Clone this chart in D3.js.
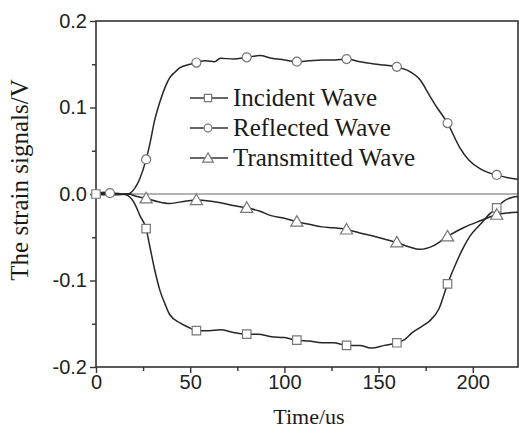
<!DOCTYPE html>
<html>
<head>
<meta charset="utf-8">
<script src="https://cdn.jsdelivr.net/npm/d3@7"></script>
<style>
  body { margin: 0; background: #fff; }
  svg { display: block; }
</style>
</head>
<body>
<div id="chart"></div>
<script>
// values
const incidentT = [0, 5, 10, 14, 17, 20.7, 23.3, 26.6, 28.6, 31.3, 34, 36.6, 39, 44.6, 50, 53.3, 60, 66, 73, 80, 86, 93, 100, 106.6, 113, 120, 126, 133, 140, 146, 153, 159.7, 164, 168, 173, 177, 182, 186.6, 191.5, 195, 198.4, 204, 209, 212.7, 216, 220.7, 224];
const incidentV = [0, 0.001, 0.001, 0, -0.002, -0.012, -0.025, -0.040, -0.061, -0.089, -0.112, -0.127, -0.139, -0.149, -0.155, -0.158, -0.158, -0.157, -0.160, -0.162, -0.162, -0.165, -0.166, -0.169, -0.170, -0.172, -0.172, -0.175, -0.175, -0.178, -0.175, -0.172, -0.168, -0.160, -0.153, -0.147, -0.133, -0.104, -0.078, -0.062, -0.049, -0.035, -0.023, -0.016, -0.009, -0.004, -0.003];

const reflectedT = [0, 4, 7.4, 12, 17, 20.7, 23.3, 26.6, 28.6, 31, 34, 36.6, 39, 42, 44.6, 50, 53.3, 58, 63, 66, 73, 80, 87, 93, 100, 106.6, 113, 120, 127, 133, 140, 146, 153, 159.7, 167, 172, 177, 181, 186.6, 193, 198, 204, 208, 212.7, 218, 224];
const reflectedV = [0, 0.002, 0.001, 0, 0, 0.007, 0.018, 0.040, 0.058, 0.084, 0.107, 0.123, 0.134, 0.141, 0.146, 0.150, 0.152, 0.154, 0.153, 0.157, 0.156, 0.158, 0.160, 0.157, 0.155, 0.153, 0.154, 0.155, 0.155, 0.156, 0.153, 0.151, 0.149, 0.147, 0.141, 0.132, 0.114, 0.100, 0.082, 0.054, 0.039, 0.029, 0.025, 0.022, 0.019, 0.017];

const transmittedT = [0, 5, 10, 17, 22, 26.6, 33, 39, 48, 53.3, 60, 66, 72, 80, 87, 93, 100, 106.6, 113, 120, 126, 133, 140, 146, 153, 159.7, 166, 172, 179, 186.6, 195, 204, 212.7, 218, 224];
const transmittedV = [0, -0.001, -0.001, 0, -0.003, -0.005, -0.009, -0.011, -0.008, -0.007, -0.008, -0.010, -0.013, -0.016, -0.020, -0.025, -0.028, -0.032, -0.035, -0.038, -0.039, -0.041, -0.045, -0.048, -0.052, -0.056, -0.061, -0.064, -0.060, -0.049, -0.039, -0.031, -0.024, -0.022, -0.021];

// where the symbols sit on each curve
const incidentMarkT = [0, 26.6, 53.3, 80, 106.6, 133, 159.7, 186.6, 212.7];
const incidentMarkV = [0, -0.040, -0.158, -0.162, -0.169, -0.175, -0.172, -0.104, -0.016];
const reflectedMarkT = [7.4, 26.6, 53.3, 80, 106.6, 133, 159.7, 186.6, 212.7];
const reflectedMarkV = [0.001, 0.040, 0.152, 0.158, 0.153, 0.156, 0.147, 0.082, 0.022];
const transmittedMarkT = [26.6, 53.3, 80, 106.6, 133, 159.7, 186.6, 212.7];
const transmittedMarkV = [-0.005, -0.007, -0.016, -0.032, -0.041, -0.056, -0.049, -0.024];

const seriesNames = ['Incident Wave', 'Reflected Wave', 'Transmitted Wave'];
const xTicks = [0, 50, 100, 150, 200];
const xMinorTicks = [25, 75, 125, 175];
const yTicks = [-0.2, -0.1, 0, 0.1, 0.2];
const yTickLabels = ['-0.2', '-0.1', '0.0', '0.1', '0.2'];
const yMinorTicks = [-0.15, -0.05, 0.05, 0.15];

const width = 519;
const height = 432;
const plotLeft = 96, plotRight = 518, plotTop = 21, plotBottom = 367;

const svg = d3.select('#chart')
    .append('svg')
    .attr('width', width)
    .attr('height', height);

svg.append('rect').attr('width', width).attr('height', height).attr('fill', '#fff');

const x = d3.scaleLinear().domain([0, 224]).range([plotLeft, plotRight]);
const y = d3.scaleLinear().domain([-0.2, 0.2]).range([plotBottom, plotTop]);

// zero line
svg.append('line')
    .attr('x1', plotLeft).attr('x2', plotRight)
    .attr('y1', y(0)).attr('y2', y(0))
    .attr('stroke', '#9a9a9a')
    .attr('stroke-width', 1.3);

// axes
svg.append('g')
    .attr('transform', `translate(0,${plotBottom})`)
    .call(d3.axisBottom(x).tickValues(xTicks).tickSize(6).tickPadding(2).tickSizeOuter(0));
svg.append('g')
    .attr('transform', `translate(0,${plotBottom})`)
    .call(d3.axisBottom(x).tickValues(xMinorTicks).tickSize(4).tickFormat(''));

svg.append('g')
    .attr('transform', `translate(${plotLeft},0)`)
    .call(d3.axisLeft(y).tickValues(yTicks).tickSize(6).tickPadding(3).tickSizeOuter(0)
        .tickFormat((d, i) => yTickLabels[i]));
svg.append('g')
    .attr('transform', `translate(${plotLeft},0)`)
    .call(d3.axisLeft(y).tickValues(yMinorTicks).tickSize(4).tickFormat(''));

svg.selectAll('.tick line').attr('stroke', '#333').attr('stroke-width', 1.4);
svg.selectAll('.domain').remove();
svg.selectAll('.tick text')
    .attr('fill', '#222')
    .style('font-family', '"Liberation Sans", Arial, sans-serif')
    .style('font-size', '20px');

// frame
svg.append('rect')
    .attr('x', plotLeft).attr('y', plotTop)
    .attr('width', plotRight - plotLeft).attr('height', plotBottom - plotTop)
    .attr('fill', 'none')
    .attr('stroke', '#333')
    .attr('stroke-width', 1.6);

// curves
const line = d3.line()
    .x(d => x(d[0]))
    .y(d => y(d[1]))
    .curve(d3.curveMonotoneX);

const curves = [
    [incidentT, incidentV],
    [reflectedT, reflectedV],
    [transmittedT, transmittedV]
];
curves.forEach(([ts, vs]) => {
    svg.append('path')
        .datum(ts.map((t, i) => [t, vs[i]]))
        .attr('d', line)
        .attr('fill', 'none')
        .attr('stroke', '#262626')
        .attr('stroke-width', 1.5);
});

const symbols = [d3.symbolSquare, d3.symbolCircle, d3.symbolTriangle];
const symbolSizes = [72, 64, 64];
const marks = [
    [incidentMarkT, incidentMarkV],
    [reflectedMarkT, reflectedMarkV],
    [transmittedMarkT, transmittedMarkV]
];
marks.forEach(([ts, vs], k) => {
    svg.append('g')
        .selectAll('path')
        .data(ts.map((t, i) => [t, vs[i]]))
        .join('path')
        .attr('transform', d => `translate(${x(d[0])},${y(d[1]) + (k === 2 ? 1 : 0)})`)
        .attr('d', d3.symbol().type(symbols[k]).size(symbolSizes[k]))
        .attr('fill', '#fff')
        .attr('stroke', '#777')
        .attr('stroke-width', 1.2);
});

// legend
const legend = svg.append('g');
seriesNames.forEach((name, k) => {
    const ly = 98 + k * 30;
    legend.append('line')
        .attr('x1', 190).attr('x2', 228)
        .attr('y1', ly).attr('y2', ly)
        .attr('stroke', '#333')
        .attr('stroke-width', 1.5);
    legend.append('path')
        .attr('transform', `translate(208,${ly + (k === 2 ? 1 : 0)})`)
        .attr('d', d3.symbol().type(symbols[k]).size(symbolSizes[k] * 0.75))
        .attr('fill', '#fff')
        .attr('stroke', '#777')
        .attr('stroke-width', 1.2);
    legend.append('text')
        .attr('x', 233)
        .attr('y', ly)
        .attr('dy', '0.33em')
        .attr('fill', '#1a1a1a')
        .style('font-family', '"Liberation Serif", "Times New Roman", serif')
        .style('font-size', '25px')
        .text(name);
});

// axis titles
svg.append('text')
    .attr('x', 309)
    .attr('y', 424)
    .attr('text-anchor', 'middle')
    .attr('fill', '#1a1a1a')
    .style('font-family', '"Liberation Serif", "Times New Roman", serif')
    .style('font-size', '22px')
    .text('Time/us');

svg.append('text')
    .attr('transform', 'translate(28,180) rotate(-90)')
    .attr('text-anchor', 'middle')
    .attr('fill', '#1a1a1a')
    .style('font-family', '"Liberation Serif", "Times New Roman", serif')
    .style('font-size', '25px')
    .text('The strain signals/V');
</script>
</body>
</html>
